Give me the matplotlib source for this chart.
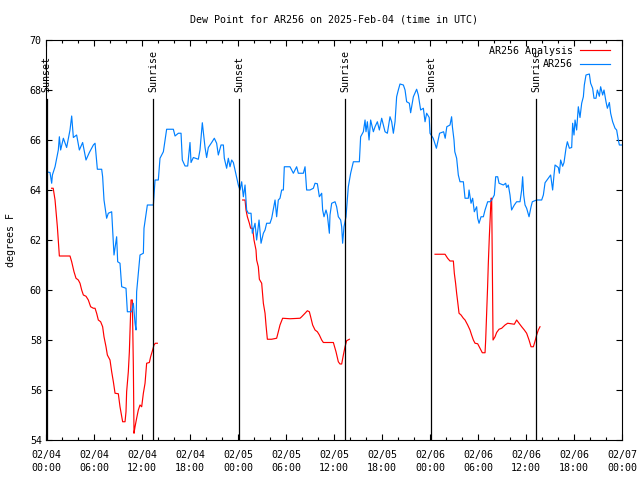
import matplotlib
matplotlib.use("Agg")
import matplotlib.pyplot as plt
import matplotlib.dates as mdates
import pandas as pd

# hours after 2025-02-04 00:00 UTC, dew point in F
obs_hours = [0.0, 0.5, 0.71, 0.8, 1.13, 1.54, 1.67, 1.83, 2.17, 2.58, 3.0, 3.21, 3.42, 3.83,
             4.17, 4.58, 5.0, 5.42, 5.92, 6.13, 6.42, 6.96, 7.08, 7.25, 7.58, 7.79, 8.21, 8.5,
             8.83, 8.96, 9.25, 9.46, 10.0, 10.17, 10.71, 10.92, 11.13, 11.25, 11.33, 11.54,
             11.75, 12.17, 12.25, 12.67, 13.42, 13.63, 14.04, 14.25, 14.67, 15.08, 15.92,
             16.13, 16.54, 16.88, 17.04, 17.38, 17.71, 18.0, 18.13, 18.42, 19.04, 19.25, 19.54,
             19.88, 20.08, 20.29, 20.71, 21.04, 21.33, 21.54, 21.88, 22.17, 22.29, 22.58, 22.79,
             23.0, 23.21, 23.42, 23.63, 23.83, 24.04, 24.25, 24.46, 24.67, 24.88, 25.08, 25.29,
             25.63, 25.79, 26.13, 26.33, 26.63, 26.88, 27.17, 27.38, 27.58, 28.0, 28.21, 28.63,
             28.83, 29.04, 29.25, 29.46, 29.67, 29.79, 30.5, 30.92, 31.33, 31.54, 32.17, 32.38,
             32.58, 33.0, 33.42, 33.63, 33.92, 34.17, 34.46, 34.58, 34.75, 35.0, 35.17, 35.42,
             35.5, 35.71, 36.13, 36.33, 36.54, 36.83, 36.96, 37.08, 37.25, 37.5, 37.79, 38.08,
             38.42, 39.17, 39.33, 39.67, 39.88, 40.0, 40.17, 40.38, 40.58, 40.92, 41.13, 41.42,
             41.67, 41.96, 42.38, 42.67, 43.0, 43.21, 43.42, 43.63, 43.83, 44.04, 44.25, 44.67,
             44.88, 45.08, 45.42, 45.58, 45.92, 46.33, 46.54, 46.83, 47.17, 47.38, 47.58, 47.9,
             48.0, 48.4, 48.8, 49.2, 49.7, 49.9, 50.1, 50.5, 50.7, 50.8, 51.0, 51.1, 51.33,
             51.54, 51.75, 52.17, 52.38, 52.79, 52.88, 53.13, 53.33, 53.54, 53.83, 53.96, 54.13,
             54.38, 54.67, 54.88, 55.21, 55.5, 55.71, 56.04, 56.21, 56.46, 56.63, 57.17, 57.46,
             57.58, 57.79, 58.0, 58.2, 58.54, 58.83, 59.25, 59.46, 59.58, 59.71, 59.88, 60.08,
             60.38, 60.63, 60.79, 61.33, 61.96, 62.17, 62.38, 62.79, 63.08, 63.33, 63.5, 63.63,
             64.04, 64.17, 64.33, 64.58, 64.75, 65.0, 65.17, 65.42, 65.71, 65.83, 66.0, 66.13,
             66.33, 66.54, 66.75, 66.96, 67.17, 67.29, 67.5, 67.92, 68.08, 68.33, 68.5, 68.75,
             68.92, 69.17, 69.33, 69.58, 69.75, 70.0, 70.17, 70.42, 70.58, 70.83, 71.13, 71.33,
             71.54, 71.67, 71.96]
obs_dewpt = [64.73, 64.7, 64.27, 64.6, 64.93, 65.6, 66.13, 65.6, 66.07, 65.7, 66.4, 66.96, 66.1, 66.2,
             65.6, 65.9, 65.2, 65.5, 65.8, 65.87, 64.83, 64.83, 64.53, 63.6, 62.87, 63.07, 63.13, 61.4,
             62.13, 61.13, 61.07, 60.13, 60.07, 59.13, 59.13, 59.47, 58.67, 58.4, 59.93, 60.67,
             61.4, 61.47, 62.47, 63.4, 63.4, 64.4, 64.4, 65.27, 65.53, 66.43, 66.43,
             66.16, 66.27, 66.27, 65.2, 64.96, 64.96, 65.9, 65.1, 65.3, 65.23, 65.6, 66.69,
             65.7, 65.3, 65.7, 65.9, 66.07, 65.87, 65.4, 65.8, 65.8, 65.27, 64.87, 65.27,
             64.93, 65.2, 65.1, 64.8, 64.53, 64.2, 64.0, 64.33, 63.73, 64.2, 63.2, 63.07,
             63.07, 62.27, 62.67, 62.0, 62.8, 61.87, 62.27, 62.4, 62.67, 62.67, 62.87, 63.6,
             62.93, 63.6, 63.67, 64.0, 64.0, 64.93, 64.93, 64.67, 64.93, 64.67, 64.67, 64.93,
             64.0, 64.0, 64.07, 64.27, 64.25, 63.73, 63.87, 63.2, 62.93, 63.2, 63.0, 62.27,
             63.0, 63.47, 63.53, 63.33, 62.93, 62.8, 62.53, 61.87, 62.53, 62.93, 64.13, 64.67,
             65.13, 65.13, 66.13, 66.33, 66.8, 66.33, 66.73, 66.0, 66.8, 66.33, 66.53, 66.73,
             66.4, 66.87, 66.33, 66.27, 66.93, 66.73, 66.27, 66.73, 67.73, 68.0, 68.24, 68.2,
             68.0, 67.53, 67.47, 67.09, 67.73, 68.03, 67.8, 67.2, 67.27, 66.73, 67.07, 66.9,
             66.27, 66.07, 65.67, 66.27, 66.33, 66.07, 66.53, 66.6, 66.93, 66.53, 66.0, 65.53, 65.27,
             64.6, 64.33, 64.33, 63.67, 63.67, 64.0, 63.47, 63.67, 63.13, 63.33, 62.87, 62.67,
             62.93, 62.93, 63.2, 63.53, 63.53, 63.6, 63.8, 64.53, 64.53, 64.27, 64.2, 64.27,
             64.1, 64.2, 63.8, 63.2, 63.4, 63.53, 63.53, 64.0, 64.53, 63.8, 63.4, 63.27,
             62.93, 63.33, 63.53, 63.6, 63.6, 63.8, 64.29, 64.47, 64.6, 64.0, 64.6, 65.0,
             64.9, 64.67, 65.2, 64.95, 65.1, 65.67, 65.93, 65.67, 65.7, 66.67, 66.2, 66.8,
             66.4, 67.33, 66.9, 67.47, 67.73, 68.2, 68.6, 68.64, 68.27, 68.07, 67.67, 67.67,
             68.0, 67.75, 68.13, 67.8, 68.0, 67.53, 67.27, 67.5, 67.07, 66.73, 66.47, 66.4,
             66.0, 65.8, 65.8]

# analysis, three separate nightly runs
ana1_hours = [0.7, 0.9, 1.13, 1.42, 1.67, 3.0, 3.21, 3.5, 3.75, 4.04, 4.25, 4.46, 4.67, 5.0, 5.29,
              5.58, 5.92, 6.13, 6.33, 6.54, 6.83, 7.08, 7.25, 7.5, 7.67, 8.0, 8.21, 8.42, 8.63,
              9.04, 9.25, 9.58, 9.88, 10.0, 10.08, 10.29, 10.42, 10.5, 10.63, 10.79, 10.92, 11.0,
              11.13, 11.33, 11.54, 11.75, 11.96, 12.17, 12.38, 12.58, 12.92, 13.08, 13.33, 13.5,
              13.67, 13.92]
ana1_dewpt = [64.07, 64.07, 63.6, 62.53, 61.36, 61.36, 61.13, 60.73, 60.47, 60.4, 60.27, 60.0, 59.8, 59.75, 59.6,
              59.33, 59.27, 59.27, 59.07, 58.8, 58.73, 58.53, 58.13, 57.73, 57.4, 57.2, 56.73, 56.33, 55.87,
              55.85, 55.33, 54.73, 54.73, 55.13, 55.93, 56.73, 57.53, 58.33, 59.6, 59.6, 56.93, 54.27,
              54.53, 54.87, 55.2, 55.4, 55.33, 55.87, 56.27, 57.07, 57.1, 57.33, 57.6, 57.8,
              57.87, 57.87]
ana2_hours = [24.58, 24.88, 25.0, 25.17, 25.42, 25.58, 25.83, 26.0, 26.25, 26.33, 26.54, 26.67, 26.96,
              27.17, 27.38, 27.5, 27.67, 28.2, 28.83, 29.04, 29.25, 29.58, 30.5, 31.75, 31.96, 32.38,
              32.67, 32.92, 33.08, 33.33, 33.63, 33.92, 34.17, 34.46, 34.67, 35.92, 36.25, 36.54,
              36.75, 36.96, 37.17, 37.38, 37.58, 37.92]
ana2_dewpt = [63.6, 63.6, 63.2, 62.93, 62.67, 62.47, 62.47, 62.0, 61.6, 61.2, 60.93, 60.43, 60.27,
              59.47, 59.07, 58.6, 58.03, 58.03, 58.07, 58.33, 58.6, 58.87, 58.85, 58.87, 58.93, 59.07,
              59.17, 59.13, 58.93, 58.6, 58.4, 58.33, 58.2, 58.0, 57.9, 57.9, 57.53, 57.13,
              57.04, 57.04, 57.4, 57.73, 57.97, 58.03]
ana3_hours = [48.63, 49.88, 50.2, 50.5, 50.92, 51.04, 51.2, 51.33, 51.46, 51.63, 51.88, 52.17, 52.38,
              52.71, 53.0, 53.2, 53.42, 53.63, 53.96, 54.25, 54.54, 54.88, 54.96, 55.08, 55.2, 55.29,
              55.42, 55.54, 55.63, 55.71, 55.79, 55.88, 56.13, 56.33, 56.63, 56.96, 57.38, 57.71,
              58.13, 58.54, 58.83, 59.13, 59.46, 59.79, 60.08, 60.38, 60.63, 60.92, 61.13, 61.33,
              61.54, 61.75]
ana3_dewpt = [61.43, 61.43, 61.27, 61.16, 61.16, 60.67, 60.27, 59.87, 59.53, 59.07, 59.0, 58.87, 58.8,
              58.6, 58.4, 58.2, 58.0, 57.87, 57.85, 57.67, 57.49, 57.49, 58.0, 59.07, 60.13, 61.07,
              62.16, 63.0, 63.67, 63.67, 61.0, 58.0, 58.13, 58.3, 58.43, 58.47, 58.6, 58.67,
              58.65, 58.63, 58.8, 58.67, 58.53, 58.4, 58.27, 58.0, 57.73, 57.73, 57.95, 58.2,
              58.4, 58.53]

sun_hours = [0.1, 13.4, 24.15, 37.4, 48.17, 61.27]
sun_labels = ['Sunset', 'Sunrise', 'Sunset', 'Sunrise', 'Sunset', 'Sunrise']

t0 = pd.Timestamp('2025-02-04 00:00')


def to_time(hours):
    return t0 + pd.to_timedelta(hours, unit='h')


plt.rcParams['font.family'] = ['DejaVu Sans Mono']
plt.rcParams['font.size'] = 7.2

fig = plt.figure(figsize=(6.4, 4.8), dpi=100)
ax = fig.add_axes([46 / 640, 40 / 480, 576 / 640, 400 / 480])

red = '#ff0000'
blue = '#0080ff'

first = True
for h, v in [(ana1_hours, ana1_dewpt), (ana2_hours, ana2_dewpt), (ana3_hours, ana3_dewpt)]:
    ax.plot(to_time(h), v, color=red, lw=0.85, label='AR256 Analysis' if first else None)
    first = False
ax.plot(to_time(obs_hours), obs_dewpt, color=blue, lw=0.85, label='AR256')

for h, lab in zip(sun_hours, sun_labels):
    t = to_time(h)
    ax.plot([t, t], [54, 67.64], color='black', lw=0.9)
    ax.text(t, 67.93, lab, rotation=90, ha='center', va='bottom', fontsize=7.2)

ax.set_xlim(t0, t0 + pd.Timedelta(hours=72))
ax.set_ylim(54, 70)
ax.set_yticks(range(54, 71, 2))
ax.xaxis.set_major_locator(mdates.HourLocator(byhour=[0, 6, 12, 18]))
ax.xaxis.set_minor_locator(mdates.HourLocator(interval=2))
ax.xaxis.set_major_formatter(mdates.DateFormatter('%m/%d\n%H:%M'))

ax.tick_params(which='both', direction='in', top=True, right=True, width=0.8)
ax.tick_params(which='major', length=4.3)
ax.tick_params(which='minor', length=2.4)
ax.tick_params(axis='x', pad=7.5)
ax.tick_params(axis='y', pad=3)
for lbl in ax.get_xticklabels():
    lbl.set_linespacing(1.35)
for s in ax.spines.values():
    s.set_linewidth(0.8)

ax.set_ylabel('degrees F', labelpad=10)
ax.set_title('Dew Point for AR256 on 2025-Feb-04 (time in UTC)', fontsize=7.2, pad=12.8)

ax.legend(loc='upper right', bbox_to_anchor=(0.982, 0.99), frameon=False, markerfirst=False,
          handlelength=3.0, borderaxespad=0.0, labelspacing=0.35, handletextpad=0.7, borderpad=0.2)

fig.savefig('out.png', dpi=100)
